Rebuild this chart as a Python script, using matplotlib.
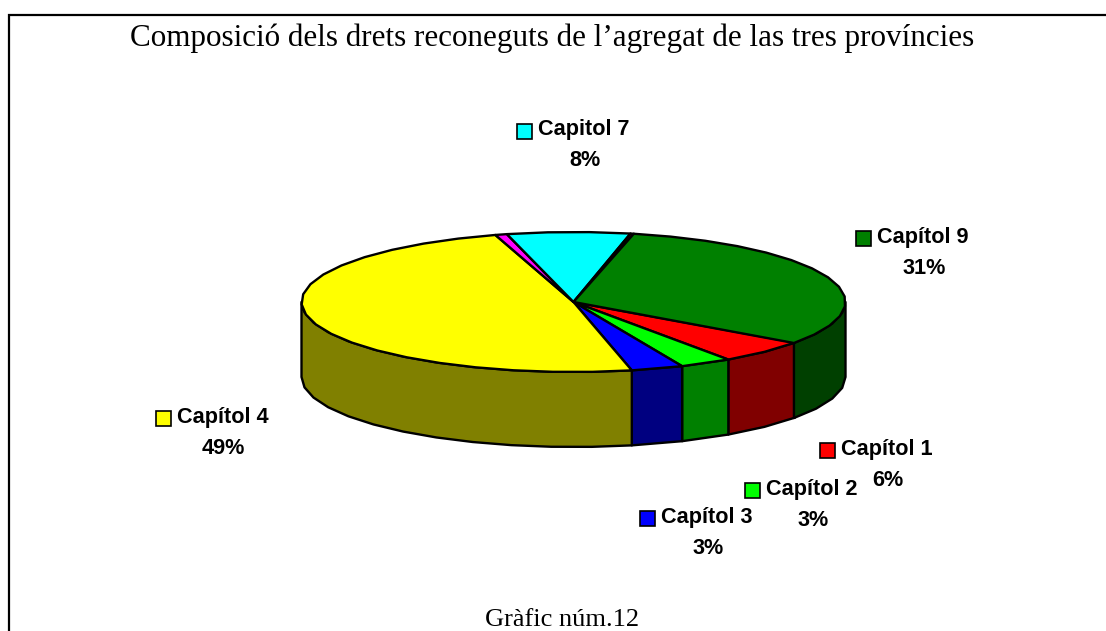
import numpy as np
import matplotlib
matplotlib.use("Agg")
import matplotlib.pyplot as plt
from matplotlib.patches import Polygon, Rectangle

W, H = 1106, 631

TITLE = "Composició dels drets reconeguts de l’agregat de las tres províncies"
FOOTER = "Gràfic núm.12"

# slices in drawing order, clockwise from the start of Capítol 1
chapters = ["Capítol 1", "Capítol 2", "Capítol 3", "Capítol 4", "Capítol 6", "Capítol 7", "Capítol 8", "Capítol 9"]
shares = [5.5, 3.1, 3.1, 48.8, 0.7, 7.3, 0.2, 31.4]
top_colors = ["#ff0000", "#00ff00", "#0000ff", "#ffff00", "#ff00ff", "#00ffff", "#800000", "#008000"]
side_colors = ["#800000", "#008000", "#000080", "#808000", "#800080", "#008080", "#400000", "#004000"]

# labels shown on the chart (the two small slices have none)
label_names = ["Capítol 1", "Capítol 2", "Capítol 3", "Capítol 4", "Capitol 7", "Capítol 9"]
label_pcts = ["6%", "3%", "3%", "49%", "8%", "31%"]
label_colors = ["#ff0000", "#00ff00", "#0000ff", "#ffff00", "#00ffff", "#008000"]
label_xy = [(827, 449), (752, 489), (647, 517), (163, 417), (524, 130), (863, 237)]

# pie geometry in pixels
CX, CY = 573.5, 302
RX, RY = 272, 70
DEPTH = 75
START = 35.5  # degrees below east, first slice
STEP = 8


def rim(a0, a1, dy=0):
    # points on the ellipse, angles in degrees running clockwise on screen
    n = max(int(abs(a1 - a0) / STEP), 1)
    t = np.radians(np.linspace(a0, a1, n + 1))
    return np.column_stack([CX + RX * np.cos(t), CY + dy + RY * np.sin(t)])


fig = plt.figure(figsize=(W / 100, H / 100), dpi=100)
ax = fig.add_axes([0, 0, 1, 1])
ax.set_xlim(0, W)
ax.set_ylim(H, 0)
ax.axis("off")

# frame runs off the right and bottom of the image
ax.add_patch(Rectangle((8.5, 14.5), 1200, 700, fc="white", ec="black", lw=1.6))

edges = START + np.cumsum([0] + shares) * 3.6

# side wall, only the front half of the pie shows
for a0, a1, c in zip(edges[:-1], edges[1:], side_colors):
    for lo, hi in [(a0, a1), (a0 - 360, a1 - 360)]:
        lo, hi = max(lo, 0), min(hi, 180)
        if lo >= hi:
            continue
        pts = np.vstack([rim(lo, hi), rim(hi, lo, DEPTH)])
        ax.add_patch(Polygon(pts, fc=c, ec="black", lw=1.7, joinstyle="round"))

# top face
for a0, a1, c in zip(edges[:-1], edges[1:], top_colors):
    pts = np.vstack([[CX, CY], rim(a0, a1)])
    ax.add_patch(Polygon(pts, fc=c, ec="black", lw=1.7, joinstyle="round"))

ax.text(552.5, 38.5, TITLE, family="Liberation Serif", fontsize=22.4, ha="center", va="center")
ax.text(562, 620, FOOTER, family="Liberation Serif", fontsize=19, ha="center", va="center")

for name, pct, c, (x, y) in zip(label_names, label_pcts, label_colors, label_xy):
    ax.add_patch(Rectangle((x - 7, y - 6), 15, 15, fc=c, ec="black", lw=1.2))
    t = ax.text(x + 14, y, name, family="Liberation Sans", weight="bold", fontsize=15.6, va="center", ha="left")
    fig.canvas.draw()
    bb = t.get_window_extent()
    ax.text((bb.x0 + bb.x1) / 2 + 1, y + 31, pct, family="Liberation Sans", weight="bold", fontsize=15.6, va="center", ha="center")

fig.savefig("out.png", dpi=100)
